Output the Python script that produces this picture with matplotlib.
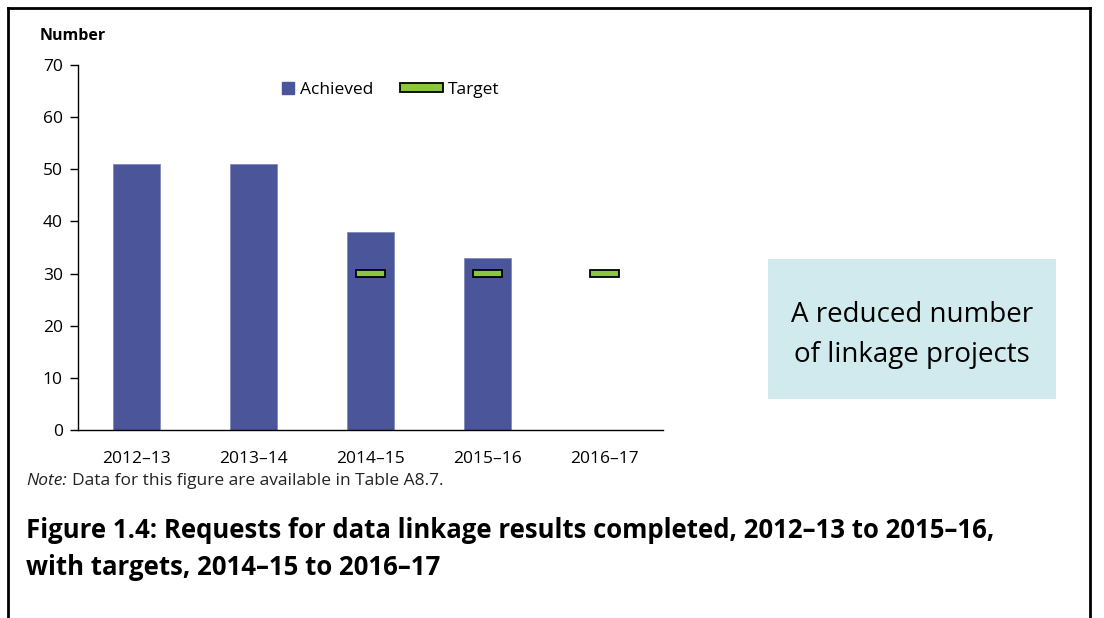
import matplotlib
matplotlib.use("Agg")
import matplotlib.pyplot as plt
from matplotlib.patches import Rectangle, Patch
from matplotlib.lines import Line2D

categories = ["2012\u201313", "2013\u201314", "2014\u201315", "2015\u201316", "2016\u201317"]
achieved = [51, 51, 38, 33, None]
target = [None, None, 30, 30, 30]
yticks = [0, 10, 20, 30, 40, 50, 60, 70]

plt.rcParams['font.family'] = ['Open Sans', 'DejaVu Sans']

W, H = 1104, 618
fig = plt.figure(figsize=(W/100, H/100), dpi=100)

def fx(px): return px / W
def fy(py): return 1 - py / H

ax = fig.add_axes([fx(78), fy(430), fx(663) - fx(78), fy(65) - fy(430)])

BAR = "#4A5699"
GREEN = "#8CC63F"

x = list(range(len(categories)))
ach_x = [i for i, v in zip(x, achieved) if v is not None]
ach_v = [v for v in achieved if v is not None]
ax.bar(ach_x, ach_v, width=0.40, color=BAR, edgecolor="#7F89BD", linewidth=0.6, zorder=2)

tg_x = [i for i, v in zip(x, target) if v is not None]
tg_v = [v for v in target if v is not None]
th = 1.2
ax.bar(tg_x, [th] * len(tg_x), bottom=[v - th / 2 for v in tg_v], width=0.24,
       color=GREEN, edgecolor="black", linewidth=1.3, zorder=3)

ax.set_xlim(-0.5, len(categories) - 0.5)
ax.set_ylim(0, 70)
ax.set_yticks(yticks)
ax.set_xticks(x)
ax.set_xticklabels(categories, fontsize=12.5)
ax.tick_params(axis='y', labelsize=12.5, length=6, width=1, direction='out', pad=5)
ax.tick_params(axis='x', length=0, pad=15)
for s in ["top", "right"]:
    ax.spines[s].set_visible(False)
ax.spines["left"].set_linewidth(1)
ax.spines["bottom"].set_linewidth(1)

leg_y = (430 - 90) / 365
leg1 = ax.legend(handles=[Line2D([], [], marker='s', linestyle='none', color=BAR, markersize=8)],
                 labels=["Achieved"], loc="center left",
                 bbox_to_anchor=((281 - 78) / 585, leg_y), frameon=False,
                 fontsize=12.5, handlelength=0.8, handletextpad=0.3, borderpad=0, borderaxespad=0)
ax.add_artist(leg1)
leg2 = ax.legend(handles=[Patch(facecolor=GREEN, edgecolor="black", linewidth=1.3)],
                 labels=["Target"], loc="center left",
                 bbox_to_anchor=((400 - 78) / 585, leg_y), frameon=False,
                 fontsize=12.5, handlelength=2.5, handleheight=0.45, handletextpad=0.25,
                 borderpad=0, borderaxespad=0)

fig.text(fx(40), fy(36), "Number", fontsize=11.5, fontweight="bold", va="center", ha="left")

# Annotation box
fig.add_artist(Rectangle((fx(768), fy(399)), fx(1056) - fx(768), fy(259) - fy(399),
                         transform=fig.transFigure, facecolor="#D0EAEE", edgecolor="none"))
fig.text(fx(912), fy(335), "A reduced number\nof linkage projects", fontsize=20,
         ha="center", va="center", linespacing=1.55)

# Note
fig.text(fx(26), fy(481), "Note:", fontsize=12.5, style="italic", va="center", ha="left",
         color="#222222")
fig.text(fx(72), fy(481), "Data for this figure are available in Table A8.7.", fontsize=12.5,
         va="center", ha="left", color="#222222")

fig.text(fx(26), fy(549), "Figure 1.4: Requests for data linkage results completed, 2012\u201313 to 2015\u201316,\nwith targets, 2014\u201315 to 2016\u201317",
         fontsize=18.5, fontweight="bold", va="center", ha="left", linespacing=1.52)

# Frame
for (x0, y0, x1, y1) in [(8, 8, 1090, 8), (8, 8, 8, 618), (1090, 8, 1090, 618)]:
    fig.add_artist(Line2D([fx(x0), fx(x1)], [fy(y0), fy(y1)], transform=fig.transFigure,
                          color="black", linewidth=2))

fig.savefig("out.png", dpi=100)
